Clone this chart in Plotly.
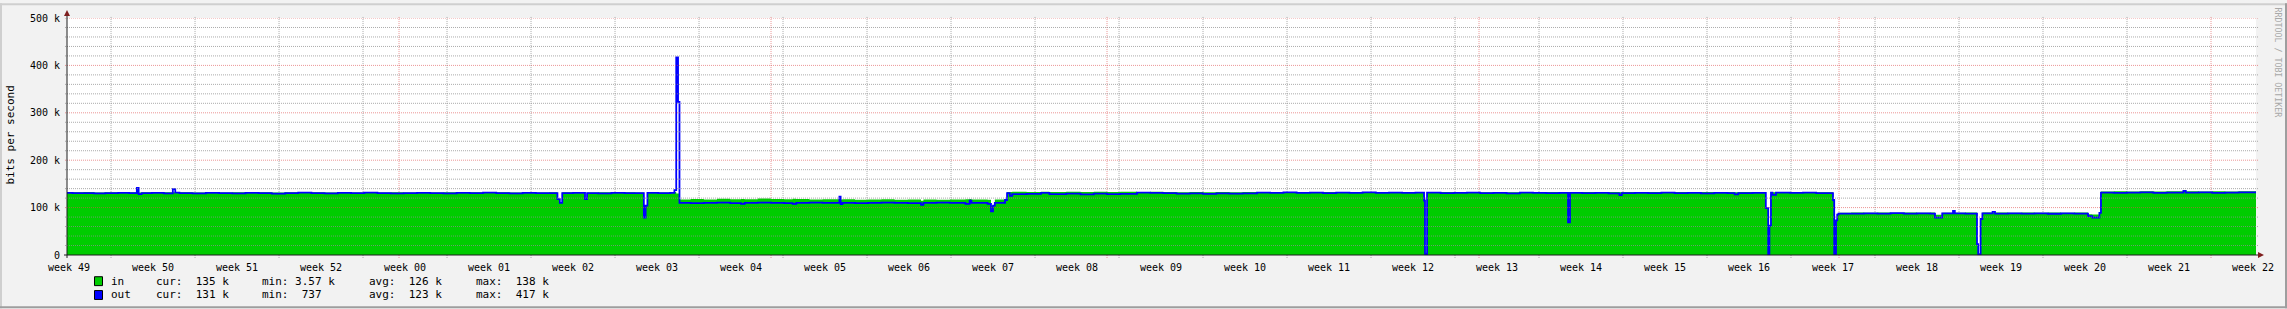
import pandas as pd
import plotly.graph_objects as go

# ---------------- data ----------------
EPOCH = "2015-01-01 00:00"
# time of each sample, in days after EPOCH (step starts)
t_days = [
    -27.67, -27.2, -26.3, -25.4, -24.5, -23.4, -22.5, -21.85, -21.7, -21.45,
    -20.6, -19.6, -18.85, -18.65, -18.3, -17.2, -16.1, -15.0, -13.9, -12.8,
    -11.7, -10.6, -9.5, -8.4, -7.3, -6.2, -5.1, -4.0, -2.9, -1.8,
    -0.7, 0.4, 1.5, 2.6, 3.7, 4.8, 5.9, 7.0, 8.1, 9.2,
    10.3, 11.4, 12.5, 13.2, 13.4, 13.6, 14.5, 15.5, 15.67, 16.6,
    17.7, 18.8, 19.7, 20.4, 20.55, 20.7, 21.6, 22.6, 22.95, 23.1,
    23.25, 23.37, 24.3, 25.4, 26.5, 27.6, 28.5, 28.8, 29.9, 31.0,
    32.1, 32.8, 33.1, 34.2, 35.3, 36.7, 36.8, 36.95, 38.0, 39.1,
    40.2, 41.3, 42.4, 43.5, 43.7, 44.8, 45.9, 47.2, 47.55, 47.7,
    49.05, 49.33, 49.5, 49.65, 50.5, 50.67, 50.9, 51.1, 52.3, 53.5,
    54.2, 55.6, 56.8, 57.9, 59.0, 60.1, 61.5, 62.6, 63.7, 64.8,
    65.9, 67.0, 68.1, 69.2, 70.3, 71.5, 72.6, 73.7, 74.8, 75.9,
    77.0, 78.1, 79.2, 80.3, 81.4, 82.5, 83.6, 84.7, 85.42, 85.5,
    85.67, 86.8, 87.9, 89.0, 90.1, 91.2, 92.3, 93.4, 94.5, 95.6,
    96.7, 97.42, 97.58, 98.6, 99.7, 100.8, 101.7, 101.9, 103.0, 104.1,
    105.2, 106.3, 107.4, 108.5, 109.6, 110.7, 111.3, 111.6, 112.8, 113.9,
    114.1, 114.2, 114.33, 114.45, 114.75, 115.9, 117.0, 118.1, 119.5, 119.6,
    119.75, 119.85, 119.95, 121.0, 122.1, 123.2, 124.3, 125.4, 126.5, 127.6,
    128.0, 128.6, 129.5, 129.65, 130.5, 131.5, 131.6, 131.8, 131.95, 132.8,
    133.0, 134.1, 135.2, 136.3, 137.4, 138.5, 139.6, 140.75, 141.1, 141.7,
    141.83, 142.9, 144.0, 145.1, 146.2, 147.3, 148.7, 148.9, 150.0, 151.1,
    152.2, 153.3, 154.75,
]
# inbound traffic, kbit/s
in_kbps = [
    132.0, 132.5, 133.0, 132.0, 132.5, 132.0, 132.5, 132.5, 132.0, 132.5,
    132.0, 132.5, 132.5, 132.0, 132.5, 132.0, 132.5, 132.0, 132.5, 132.0,
    132.5, 132.0, 132.5, 132.0, 132.5, 132.0, 132.5, 132.0, 132.5, 132.0,
    132.5, 132.0, 132.5, 132.0, 132.5, 132.0, 132.5, 132.0, 132.5, 132.0,
    132.5, 132.0, 132.5, 118.0, 110.0, 132.5, 132.0, 121.0, 132.0, 132.5,
    132.0, 132.5, 132.0, 104.0, 104.0, 132.5, 132.0, 132.5, 133.0, 130.0,
    130.0, 117.0, 118.0, 117.0, 118.5, 117.5, 118.0, 117.5, 119.0, 118.0,
    117.5, 118.5, 118.0, 117.0, 117.5, 117.0, 117.0, 117.5, 116.5, 117.0,
    117.5, 116.5, 117.0, 114.5, 117.0, 116.5, 117.0, 117.5, 118.0, 117.0,
    116.5, 104.0, 104.0, 117.0, 116.0, 133.0, 133.0, 133.5, 133.0, 133.5,
    133.0, 133.5, 133.0, 133.5, 133.0, 133.5, 133.0, 133.5, 133.0, 132.5,
    133.0, 132.5, 133.0, 132.5, 133.0, 132.5, 133.0, 132.5, 133.0, 132.5,
    133.0, 132.5, 133.0, 132.5, 133.0, 132.5, 133.0, 132.5, 115.0, 5.0,
    132.5, 133.0, 132.5, 133.0, 132.5, 133.0, 132.5, 133.0, 132.5, 133.0,
    132.5, 132.5, 132.5, 133.0, 132.5, 133.0, 132.5, 133.0, 132.5, 133.0,
    132.5, 133.0, 132.5, 133.0, 132.5, 133.0, 132.5, 133.0, 132.5, 99.0,
    5.0, 62.0, 133.0, 132.5, 133.0, 132.5, 133.0, 132.5, 116.0, 5.0,
    73.0, 85.0, 89.0, 89.5, 89.0, 89.5, 89.0, 89.5, 89.0, 89.5,
    85.0, 89.0, 89.5, 89.0, 89.5, 23.0, 3.57, 76.0, 89.5, 89.0,
    89.5, 89.0, 89.5, 89.0, 89.5, 89.0, 89.5, 86.0, 85.5, 89.0,
    134.0, 134.5, 134.0, 134.5, 134.0, 134.5, 134.0, 134.5, 134.0, 134.5,
    134.0, 134.5, 135.0,
]
# outbound traffic, kbit/s
out_kbps = [
    131.0, 130.5, 130.5, 130.0, 130.5, 131.0, 130.5, 141.5, 128.5, 130.5,
    131.0, 130.0, 139.0, 131.5, 130.5, 130.0, 131.0, 130.5, 130.0, 131.0,
    130.5, 129.5, 130.5, 131.5, 130.5, 130.0, 131.0, 130.5, 131.5, 130.5,
    130.0, 130.5, 131.0, 130.5, 130.0, 131.0, 130.5, 131.5, 130.5, 130.0,
    131.0, 130.5, 130.5, 118.0, 110.0, 130.5, 131.0, 118.0, 130.5, 130.0,
    131.0, 130.5, 130.5, 79.0, 104.0, 131.0, 130.5, 131.0, 137.0, 417.0,
    323.0, 110.0, 109.5, 110.0, 110.5, 109.5, 108.0, 110.0, 110.5, 110.0,
    109.5, 108.0, 110.0, 110.5, 110.0, 123.0, 107.5, 110.0, 109.5, 110.0,
    110.5, 110.0, 109.5, 106.0, 110.0, 110.5, 110.0, 108.0, 114.5, 110.0,
    108.0, 92.0, 104.0, 110.0, 116.0, 130.5, 125.0, 128.5, 129.0, 131.0,
    128.5, 129.5, 128.0, 129.5, 128.5, 129.0, 131.5, 131.0, 130.5, 129.5,
    130.0, 129.0, 130.0, 129.5, 130.0, 131.5, 131.0, 132.0, 131.0, 131.5,
    130.5, 131.5, 131.0, 132.0, 131.0, 131.5, 131.0, 131.5, 115.0, 1.5,
    131.5, 130.5, 131.0, 131.5, 130.5, 131.0, 130.0, 131.5, 131.0, 130.5,
    131.0, 69.0, 131.0, 130.5, 131.0, 130.0, 126.5, 130.5, 131.0, 130.5,
    131.5, 130.5, 131.0, 130.0, 131.0, 130.5, 128.0, 130.5, 131.0, 99.0,
    1.5, 62.0, 131.5, 127.0, 131.5, 131.0, 131.5, 130.5, 116.0, 1.2,
    73.0, 85.0, 87.5, 87.5, 88.0, 87.5, 88.5, 87.5, 88.0, 87.5,
    79.0, 88.0, 93.0, 88.0, 87.5, 23.0, 0.737, 76.0, 88.0, 91.0,
    87.5, 88.0, 87.5, 88.0, 87.0, 88.0, 87.5, 82.0, 79.0, 89.0,
    131.5, 131.0, 131.5, 132.0, 131.0, 131.5, 135.0, 131.5, 132.0, 131.0,
    131.5, 132.0, 131.0,
]

week_labels = [
    "week 49", "week 50", "week 51", "week 52", "week 00", "week 01", "week 02",
    "week 03", "week 04", "week 05", "week 06", "week 07", "week 08", "week 09",
    "week 10", "week 11", "week 12", "week 13", "week 14", "week 15", "week 16",
    "week 17", "week 18", "week 19", "week 20", "week 21", "week 22",
]
y_tick_values = [0, 100000, 200000, 300000, 400000, 500000]
y_tick_labels = ["0", "100 k", "200 k", "300 k", "400 k", "500 k"]

legend_names = ["in", "out"]
legend_colors = ["#00CC00", "#0000FF"]
legend_cur = [("135", "k"), ("131", "k")]
legend_min = [("3.57", "k"), ("737", "")]
legend_avg = [("126", "k"), ("123", "k")]
legend_max = [("138", "k"), ("417", "k")]

# ---------------- geometry / style ----------------
W, H = 2287, 309
PL, PR, PT, PB = 67, 2256, 15, 255
FONT = "DejaVu Sans Mono"
GRID = "rgba(143,143,143,0.75)"
MGRID = "rgba(222,79,79,0.6)"
AXIS = "#1F1F1F"
ARROW = "#7F1F1F"


def fx(px):
    return (px - PL) / (PR - PL)


def fy(py):
    return (PB - py) / (PB - PT)


epoch = pd.Timestamp(EPOCH)
times = [epoch + pd.to_timedelta(d, unit="D") for d in t_days]
in_bps = [v * 1000 for v in in_kbps]
out_bps = [v * 1000 for v in out_kbps]
x_start, x_end = times[0], times[-1]

# week grid (Mondays), month grid, week labels at mid-week
first_monday = x_start.normalize() - pd.Timedelta(days=x_start.weekday())
mondays = pd.date_range(first_monday, x_end, freq="W-MON")
label_pos = [m + pd.Timedelta(hours=84) for m in mondays]
label_pos = [p for p in label_pos if x_start <= p <= x_end][: len(week_labels)]
month_starts = [m for m in pd.date_range(x_start.normalize(), x_end, freq="MS")]
week_lines = [m for m in mondays if x_start < m < x_end and m not in month_starts]

fig = go.Figure()
fig.add_trace(go.Scatter(
    x=times, y=in_bps, mode="lines", name="in",
    line=dict(shape="hv", width=0, color="#00CC00"),
    fill="tozeroy", fillcolor="#00CC00", hoverinfo="skip",
))
fig.add_trace(go.Scatter(
    x=times, y=out_bps, mode="lines", name="out",
    line=dict(shape="hv", width=1.8, color="#0000FF"), hoverinfo="skip",
))

shapes = []
# vertical grid (behind data)
for m in week_lines:
    shapes.append(dict(type="line", xref="x", yref="paper", x0=m, x1=m,
                       y0=fy(258), y1=fy(13), layer="below",
                       line=dict(color=GRID, width=1, dash="1px,1px")))
for m in month_starts:
    shapes.append(dict(type="line", xref="x", yref="paper", x0=m, x1=m,
                       y0=fy(258), y1=fy(13), layer="below",
                       line=dict(color=MGRID, width=1, dash="1px,1px")))
# horizontal grid (over data)
for v in range(20000, 500001, 20000):
    col = MGRID if v % 100000 == 0 else GRID
    shapes.append(dict(type="line", xref="paper", yref="y", x0=fx(65), x1=fx(2258),
                       y0=v, y1=v, layer="above",
                       line=dict(color=col, width=1, dash="1px,1px")))
# axes
shapes.append(dict(type="line", xref="paper", yref="paper", x0=fx(64), x1=fx(2259),
                   y0=0, y1=0, layer="above", line=dict(color=AXIS, width=1)))
shapes.append(dict(type="line", xref="paper", yref="paper", x0=0, x1=0,
                   y0=fy(258), y1=fy(11), layer="above", line=dict(color=AXIS, width=1)))
# arrows
shapes.append(dict(type="path", xref="paper", yref="paper", xsizemode="pixel",
                   ysizemode="pixel", xanchor=1, yanchor=0,
                   path="M 2,-3 L 8,0 L 2,3 Z", fillcolor=ARROW, line=dict(width=0),
                   layer="above"))
shapes.append(dict(type="path", xref="paper", yref="paper", xsizemode="pixel",
                   ysizemode="pixel", xanchor=0, yanchor=1,
                   path="M -3,2 L 0,8 L 3,2 Z", fillcolor=ARROW, line=dict(width=0),
                   layer="above"))
# frame shading
shapes.append(dict(type="rect", xref="paper", yref="paper", x0=fx(0), x1=fx(W),
                   y0=fy(0), y1=fy(2), fillcolor="#CFCFCF", line=dict(width=0)))
shapes.append(dict(type="rect", xref="paper", yref="paper", x0=fx(0), x1=fx(2),
                   y0=fy(0), y1=fy(H), fillcolor="#CFCFCF", line=dict(width=0)))
shapes.append(dict(type="rect", xref="paper", yref="paper", x0=fx(0), x1=fx(W),
                   y0=fy(H - 2), y1=fy(H), fillcolor="#9E9E9E", line=dict(width=0)))
shapes.append(dict(type="rect", xref="paper", yref="paper", x0=fx(W - 2), x1=fx(W),
                   y0=fy(0), y1=fy(H), fillcolor="#9E9E9E", line=dict(width=0)))

annotations = []
NB = "\u00a0"


def txt(s):
    return s.replace(" ", NB)


row_y = [281.5, 295.5]
for i, name in enumerate(legend_names):
    yc = row_y[i]
    shapes.append(dict(type="rect", xref="paper", yref="paper",
                       x0=fx(94.5), x1=fx(102.5), y0=fy(yc - 4.5), y1=fy(yc + 4.5),
                       fillcolor=legend_colors[i], line=dict(color="#000000", width=1),
                       layer="above"))
    parts = [
        (109, name),
        (154, f"cur: {legend_cur[i][0]:>4} {legend_cur[i][1]}"),
        (260, f"min: {legend_min[i][0]:>4} {legend_min[i][1]}"),
        (367, f"avg: {legend_avg[i][0]:>4} {legend_avg[i][1]}"),
        (474, f"max: {legend_max[i][0]:>4} {legend_max[i][1]}"),
    ]
    for px, s in parts:
        annotations.append(dict(xref="paper", yref="paper", x=fx(px), y=fy(yc),
                                xanchor="left", yanchor="middle", showarrow=False,
                                text=txt(s.rstrip()),
                                font=dict(family=FONT, size=11, color="#000000")))

annotations.append(dict(xref="paper", yref="paper", x=fx(11), y=fy(134),
                        xanchor="center", yanchor="middle", showarrow=False,
                        text=txt("bits per second"), textangle=-90,
                        font=dict(family=FONT, size=11, color="#000000")))
annotations.append(dict(xref="paper", yref="paper", x=fx(2278), y=fy(60),
                        xanchor="center", yanchor="middle", showarrow=False,
                        text=txt("RRDTOOL / TOBI OETIKER"), textangle=90,
                        font=dict(family=FONT, size=8.3, color="#A8A8A8")))

fig.update_layout(
    width=W, height=H,
    margin=dict(l=PL, r=W - PR, t=PT, b=H - PB, pad=0),
    paper_bgcolor="#F2F2F2", plot_bgcolor="#FFFFFF",
    showlegend=False,
    shapes=shapes, annotations=annotations,
    xaxis=dict(type="date", range=[x_start, x_end], showgrid=False, zeroline=False,
               showline=False, tickmode="array", tickvals=label_pos, ticktext=week_labels,
               ticks="outside", ticklen=3, tickcolor="rgba(0,0,0,0)",
               tickfont=dict(family=FONT, size=10, color="#000000"), fixedrange=True),
    yaxis=dict(range=[0, 500000], showgrid=False, zeroline=False, showline=False,
               tickmode="array", tickvals=y_tick_values, ticktext=y_tick_labels,
               ticks="outside", ticklen=4, tickcolor="rgba(0,0,0,0)",
               tickfont=dict(family=FONT, size=10, color="#000000"), fixedrange=True),
)

fig.write_html("out.html")
